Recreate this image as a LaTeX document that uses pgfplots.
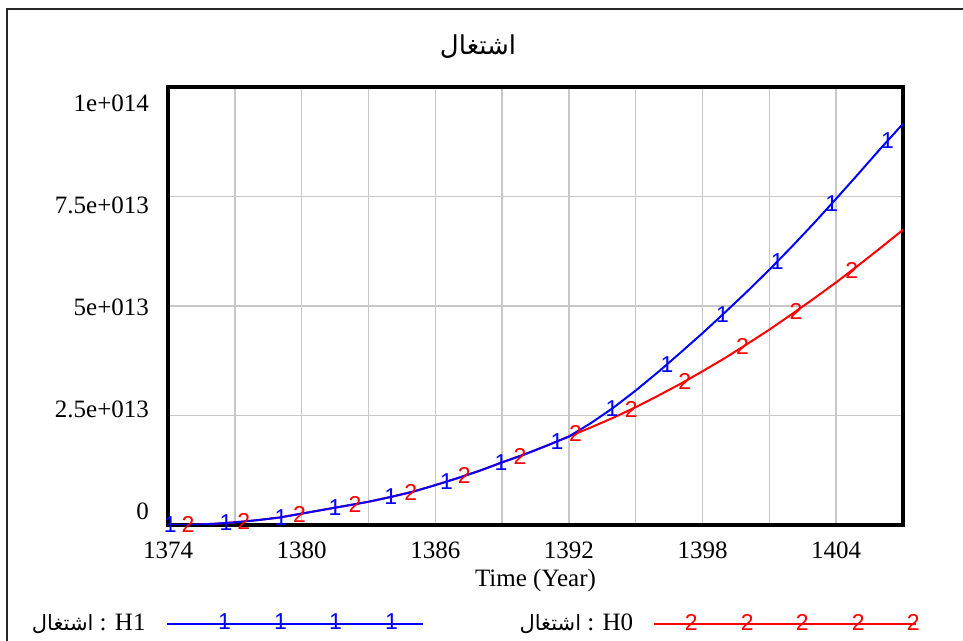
\documentclass[border=0pt]{standalone}
\usepackage{fontspec}
\setmainfont{Liberation Serif}
\newfontfamily\arabicfont[Script=Arabic]{DejaVu Sans}
\newfontfamily\markfont{Liberation Sans}
\TeXXeTstate=1
\usepackage{pgfplots}
\usepackage{pgfplotstable}
\pgfplotsset{compat=1.18}

% values in units of 1e13
\pgfplotstableread{
year h1 h0
1374 0 0
1375 0.005 0.005
1376 0.025 0.025
1377 0.06 0.06
1378 0.11 0.11
1379 0.17 0.17
1380 0.26 0.26
1381 0.35 0.35
1382 0.44 0.44
1383 0.53 0.53
1384 0.64 0.64
1385 0.76 0.76
1386 0.91 0.91
1387 1.07 1.07
1388 1.24 1.24
1389 1.43 1.43
1390 1.61 1.61
1391 1.81 1.81
1392 2.02 2.02
1393 2.33 2.23
1394 2.68 2.45
1395 3.07 2.69
1396 3.49 2.95
1397 3.93 3.22
1398 4.38 3.51
1399 4.85 3.81
1400 5.33 4.13
1401 5.83 4.46
1402 6.35 4.81
1403 6.89 5.17
1404 7.45 5.54
1405 8.02 5.93
1406 8.60 6.33
1407 9.16 6.74
}\datatable

\pgfplotstableread{
year val
1374.1 0
1376.6 0.046
1379.07 0.176
1381.5 0.395
1384.0 0.64
1386.5 0.99
1388.95 1.42
1391.47 1.91
1393.94 2.66
1396.4 3.67
1398.9 4.80
1401.35 6.01
1403.8 7.34
1406.3 8.77
}\marksone

\pgfplotstableread{
year val
1374.9 0.004
1377.4 0.08
1379.9 0.25
1382.4 0.48
1384.9 0.75
1387.3 1.12
1389.8 1.57
1392.3 2.08
1394.8 2.64
1397.2 3.28
1399.8 4.07
1402.2 4.88
1404.7 5.81
}\markstwo

\newcommand{\mk}{\markfont\fontsize{11.5}{12}\selectfont}
\newcommand{\arsmall}{\arabicfont\fontsize{10.5}{12}\selectfont}

\begin{document}
\begin{tikzpicture}
\useasboundingbox (0pt,0pt) rectangle (481.5pt,320.5pt);
\draw[black!85, line width=1pt] (3.6pt,0pt) -- (3.6pt,316pt) -- (481.5pt,316pt);
\begin{axis}[
    at={(84pt,58pt)}, anchor=south west,
    scale only axis,
    width=367.5pt, height=219pt,
    xmin=1374, xmax=1407, ymin=0, ymax=10,
    xtick={1374,1380,...,1404},
    minor xtick={1377,1383,...,1401},
    ytick={0,2.5,5,7.5,10},
    yticklabels={0,2.5e+013,5e+013,7.5e+013,1e+014},
    grid=both,
    major grid style={black!22, line width=0.75pt},
    minor grid style={black!22, line width=0.75pt},
    axis line style={line width=1.6pt},
    major tick length=0pt, minor tick length=0pt,
    tick label style={font=\fontsize{12.5}{14}\selectfont},
    /pgf/number format/assume math mode=true,
    /pgf/number format/1000 sep={},
    xticklabel style={anchor=center, yshift=-12.5pt},
    yticklabel style={anchor=east, xshift=-6pt, yshift={6.8pt-3.7pt*\ticknum}},
    xlabel={Time (Year)},
    xlabel style={at={(axis description cs:0.5,-0.1256)}, anchor=center, font=\fontsize{12.5}{14}\selectfont},
    every axis title shift=0pt,
    title={\arabicfont\beginR اشتغال\endR},
    title style={at={(axis description cs:0.4218,1.0913)}, anchor=center, font=\fontsize{13}{15}\selectfont},
    legend plot pos=right,
    reverse legend,
    legend columns=2,
    legend style={draw=none, fill=none, at={(axis description cs:0.416,-0.225)}, anchor=center,
        font=\fontsize{12.5}{14}\selectfont,
        /tikz/every even column/.append style={column sep=46pt},
        /tikz/every odd column/.append style={column sep=8pt}},
]
\addplot[red, line width=1pt, forget plot] table[x=year, y=h0]{\datatable};
\addplot[blue, line width=1pt, forget plot] table[x=year, y=h1]{\datatable};
\addplot[red, only marks, mark=text, text mark={\mk 2}, text mark as node=true,
    legend image code/.code={
        \draw[red, line width=1pt] (0pt,0pt) -- (131pt,0pt);
        \foreach \p in {18.5,46.5,74,102,129.5} {\node[red, font=\mk, inner sep=0pt] at (\p pt,0pt) {2};}
    }] table[x=year, y=val]{\markstwo};
\addlegendentry{{\arsmall\beginR اشتغال\endR} : H0}
\addplot[blue, only marks, mark=text, text mark={\mk 1}, text mark as node=true,
    legend image code/.code={
        \draw[blue, line width=1pt] (0pt,0pt) -- (128pt,0pt);
        \foreach \p in {29,57,84.5,112.5} {\node[blue, font=\mk, inner sep=0pt] at (\p pt,0pt) {1};}
    }] table[x=year, y=val]{\marksone};
\addlegendentry{{\arsmall\beginR اشتغال\endR} : H1}
\end{axis}
\end{tikzpicture}
\end{document}
